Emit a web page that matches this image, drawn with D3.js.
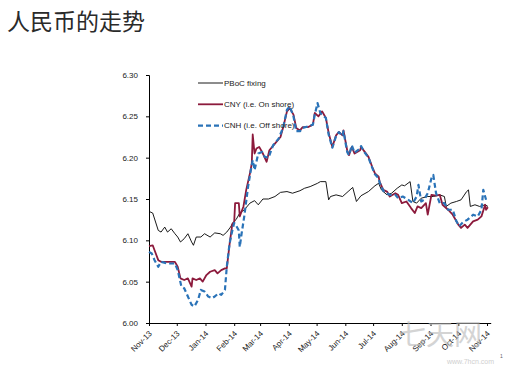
<!DOCTYPE html>
<html>
<head>
<meta charset="utf-8">
<script src="https://cdn.jsdelivr.net/npm/d3@7"></script>
<style>
  body { margin: 0; background: #fff; }
  svg { display: block; }
  .tick text { font-family: "Liberation Sans", Arial, sans-serif; font-size: 8px; fill: #222; }
</style>
</head>
<body>
<div class="svgcontainer"></div>
<script>
// chart values
const yTicks = [6.00, 6.05, 6.10, 6.15, 6.20, 6.25, 6.30];
const seriesNames = ["PBoC fixing", "CNY (i.e. On shore)", "CNH (i.e. Off shore)"];

const pbocFixing = [
  ["2013-11-01", 6.135], ["2013-11-05", 6.133], ["2013-11-11", 6.112], ["2013-11-14", 6.110],
  ["2013-11-18", 6.116], ["2013-11-21", 6.110], ["2013-11-25", 6.114], ["2013-11-29", 6.108],
  ["2013-12-02", 6.104], ["2013-12-05", 6.098], ["2013-12-09", 6.102], ["2013-12-13", 6.108],
  ["2013-12-17", 6.098], ["2013-12-19", 6.094], ["2013-12-22", 6.104], ["2013-12-27", 6.104],
  ["2013-12-31", 6.108], ["2014-01-06", 6.104], ["2014-01-11", 6.109], ["2014-01-17", 6.108],
  ["2014-01-20", 6.106], ["2014-01-24", 6.110], ["2014-01-28", 6.116], ["2014-01-31", 6.122],
  ["2014-02-03", 6.125], ["2014-02-07", 6.133], ["2014-02-12", 6.137], ["2014-02-18", 6.145],
  ["2014-02-23", 6.148], ["2014-02-27", 6.143], ["2014-03-04", 6.150], ["2014-03-10", 6.150],
  ["2014-03-17", 6.153], ["2014-03-23", 6.158], ["2014-03-30", 6.159], ["2014-04-05", 6.157],
  ["2014-04-13", 6.160], ["2014-04-18", 6.163], ["2014-04-24", 6.165], ["2014-05-02", 6.169],
  ["2014-05-05", 6.171], ["2014-05-11", 6.171], ["2014-05-14", 6.149], ["2014-05-16", 6.153],
  ["2014-05-22", 6.155], ["2014-05-29", 6.153], ["2014-06-04", 6.159], ["2014-06-09", 6.164],
  ["2014-06-13", 6.147], ["2014-06-18", 6.154], ["2014-06-26", 6.159], ["2014-07-03", 6.166],
  ["2014-07-07", 6.169], ["2014-07-10", 6.161], ["2014-07-16", 6.155], ["2014-07-21", 6.157],
  ["2014-07-27", 6.163], ["2014-08-01", 6.167], ["2014-08-04", 6.166], ["2014-08-10", 6.171],
  ["2014-08-13", 6.147], ["2014-08-17", 6.145], ["2014-08-22", 6.151], ["2014-08-29", 6.153],
  ["2014-09-04", 6.153], ["2014-09-11", 6.155], ["2014-09-16", 6.153], ["2014-09-18", 6.141],
  ["2014-09-23", 6.145], ["2014-09-29", 6.147], ["2014-10-04", 6.149], ["2014-10-10", 6.159],
  ["2014-10-12", 6.161], ["2014-10-14", 6.141], ["2014-10-19", 6.143], ["2014-10-24", 6.141],
  ["2014-10-30", 6.143], ["2014-11-02", 6.141]
];

const cnyOnshore = [
  ["2013-11-01", 6.093], ["2013-11-05", 6.094], ["2013-11-07", 6.088], ["2013-11-11", 6.076],
  ["2013-11-14", 6.074], ["2013-11-21", 6.074], ["2013-11-29", 6.074], ["2013-12-02", 6.068],
  ["2013-12-05", 6.054], ["2013-12-09", 6.052], ["2013-12-13", 6.054], ["2013-12-17", 6.044],
  ["2013-12-18", 6.054], ["2013-12-22", 6.052], ["2013-12-26", 6.054], ["2013-12-29", 6.050],
  ["2014-01-02", 6.058], ["2014-01-06", 6.062], ["2014-01-11", 6.064], ["2014-01-14", 6.060],
  ["2014-01-18", 6.064], ["2014-01-22", 6.066], ["2014-01-24", 6.066], ["2014-01-27", 6.095],
  ["2014-01-30", 6.120], ["2014-02-01", 6.122], ["2014-02-02", 6.145], ["2014-02-06", 6.145],
  ["2014-02-07", 6.129], ["2014-02-11", 6.141], ["2014-02-14", 6.161], ["2014-02-18", 6.181],
  ["2014-02-20", 6.193], ["2014-02-21", 6.228], ["2014-02-23", 6.205], ["2014-02-25", 6.211],
  ["2014-02-28", 6.213], ["2014-03-04", 6.205], ["2014-03-08", 6.195], ["2014-03-11", 6.209],
  ["2014-03-17", 6.217], ["2014-03-23", 6.225], ["2014-03-26", 6.237], ["2014-03-30", 6.256],
  ["2014-04-02", 6.260], ["2014-04-06", 6.252], ["2014-04-09", 6.236], ["2014-04-13", 6.233],
  ["2014-04-16", 6.237], ["2014-04-22", 6.237], ["2014-04-27", 6.240], ["2014-04-29", 6.254],
  ["2014-05-03", 6.250], ["2014-05-07", 6.256], ["2014-05-11", 6.248], ["2014-05-14", 6.230],
  ["2014-05-18", 6.213], ["2014-05-22", 6.227], ["2014-05-25", 6.231], ["2014-05-29", 6.227],
  ["2014-05-30", 6.233], ["2014-06-03", 6.209], ["2014-06-05", 6.203], ["2014-06-08", 6.213],
  ["2014-06-11", 6.205], ["2014-06-17", 6.209], ["2014-06-18", 6.213], ["2014-06-22", 6.207],
  ["2014-06-26", 6.201], ["2014-06-30", 6.189], ["2014-07-03", 6.181], ["2014-07-07", 6.177],
  ["2014-07-08", 6.171], ["2014-07-12", 6.161], ["2014-07-16", 6.159], ["2014-07-19", 6.153],
  ["2014-07-25", 6.157], ["2014-07-28", 6.155], ["2014-08-01", 6.145], ["2014-08-06", 6.147],
  ["2014-08-11", 6.139], ["2014-08-15", 6.133], ["2014-08-18", 6.141], ["2014-08-22", 6.139],
  ["2014-08-27", 6.145], ["2014-08-29", 6.131], ["2014-09-02", 6.155], ["2014-09-07", 6.154],
  ["2014-09-11", 6.155], ["2014-09-14", 6.143], ["2014-09-20", 6.137], ["2014-09-25", 6.131],
  ["2014-10-01", 6.119], ["2014-10-04", 6.115], ["2014-10-08", 6.119], ["2014-10-11", 6.115],
  ["2014-10-17", 6.123], ["2014-10-22", 6.125], ["2014-10-26", 6.129], ["2014-10-30", 6.143],
  ["2014-10-31", 6.137], ["2014-11-02", 6.140]
];

const cnhOffshore = [
  ["2013-11-01", 6.086], ["2013-11-04", 6.084], ["2013-11-07", 6.076], ["2013-11-11", 6.068],
  ["2013-11-14", 6.074], ["2013-11-21", 6.072], ["2013-11-29", 6.072], ["2013-12-02", 6.064],
  ["2013-12-06", 6.044], ["2013-12-09", 6.042], ["2013-12-13", 6.032], ["2013-12-17", 6.022],
  ["2013-12-20", 6.020], ["2013-12-24", 6.028], ["2013-12-27", 6.040], ["2013-12-31", 6.038],
  ["2014-01-04", 6.032], ["2014-01-08", 6.030], ["2014-01-11", 6.032], ["2014-01-15", 6.036],
  ["2014-01-18", 6.034], ["2014-01-22", 6.040], ["2014-01-24", 6.068], ["2014-01-27", 6.096],
  ["2014-01-30", 6.112], ["2014-02-01", 6.121], ["2014-02-03", 6.118], ["2014-02-06", 6.112],
  ["2014-02-07", 6.092], ["2014-02-09", 6.108], ["2014-02-12", 6.130], ["2014-02-16", 6.165],
  ["2014-02-19", 6.185], ["2014-02-21", 6.197], ["2014-02-23", 6.185], ["2014-02-27", 6.205],
  ["2014-03-03", 6.207], ["2014-03-06", 6.201], ["2014-03-10", 6.200], ["2014-03-15", 6.215],
  ["2014-03-21", 6.223], ["2014-03-26", 6.237], ["2014-03-30", 6.258], ["2014-04-02", 6.262],
  ["2014-04-06", 6.250], ["2014-04-09", 6.232], ["2014-04-13", 6.232], ["2014-04-16", 6.236],
  ["2014-04-22", 6.238], ["2014-04-27", 6.240], ["2014-04-29", 6.252], ["2014-05-02", 6.266],
  ["2014-05-05", 6.254], ["2014-05-11", 6.248], ["2014-05-14", 6.228], ["2014-05-18", 6.212],
  ["2014-05-22", 6.226], ["2014-05-25", 6.231], ["2014-05-29", 6.226], ["2014-05-30", 6.232],
  ["2014-06-03", 6.207], ["2014-06-05", 6.203], ["2014-06-08", 6.215], ["2014-06-11", 6.206],
  ["2014-06-17", 6.211], ["2014-06-18", 6.214], ["2014-06-22", 6.206], ["2014-06-26", 6.200],
  ["2014-06-30", 6.188], ["2014-07-03", 6.180], ["2014-07-07", 6.175], ["2014-07-08", 6.170],
  ["2014-07-12", 6.160], ["2014-07-16", 6.157], ["2014-07-19", 6.155], ["2014-07-25", 6.155],
  ["2014-07-28", 6.151], ["2014-08-02", 6.153], ["2014-08-08", 6.149], ["2014-08-13", 6.145],
  ["2014-08-17", 6.153], ["2014-08-19", 6.167], ["2014-08-22", 6.147], ["2014-08-25", 6.149],
  ["2014-08-29", 6.157], ["2014-09-02", 6.175], ["2014-09-04", 6.179], ["2014-09-07", 6.157],
  ["2014-09-11", 6.145], ["2014-09-16", 6.145], ["2014-09-20", 6.137], ["2014-09-25", 6.137],
  ["2014-09-29", 6.123], ["2014-10-02", 6.117], ["2014-10-06", 6.122], ["2014-10-11", 6.125],
  ["2014-10-17", 6.131], ["2014-10-22", 6.129], ["2014-10-26", 6.137], ["2014-10-28", 6.161],
  ["2014-10-31", 6.149]
];

const W = 505, H = 365;
const parse = d3.timeParse("%Y-%m-%d");

const svg = d3.select('.svgcontainer')
  .append('svg')
  .attr('width', W)
  .attr('height', H);

// title
svg.append('text')
  .attr('x', 7)
  .attr('y', 30)
  .attr('font-family', '"Noto Sans CJK SC", sans-serif')
  .attr('font-size', 23)
  .attr('fill', '#2a2a2a')
  .text('人民币的走势');

const x = d3.scaleTime()
  .domain([parse("2013-11-01"), parse("2014-11-05")])
  .range([149, 490.7]);

const y = d3.scaleLinear()
  .domain([6.00, 6.30])
  .range([323, 75]);

// y axis
const yAxis = svg.append('g')
  .attr('transform', 'translate(149,0)')
  .call(d3.axisLeft(y).tickValues(yTicks).tickFormat(d3.format('.2f')).tickSize(3).tickPadding(8));
yAxis.select('.domain').attr('stroke', '#000');
yAxis.selectAll('.tick line').attr('stroke', '#000');

// x axis
const xAxis = svg.append('g')
  .attr('transform', 'translate(0,323)')
  .call(d3.axisBottom(x).ticks(d3.timeMonth.every(1)).tickFormat(d3.timeFormat('%b-%y')).tickSize(3).tickSizeOuter(0));
xAxis.select('.domain').attr('stroke', '#000');
xAxis.selectAll('.tick line').attr('stroke', '#000');
xAxis.selectAll('.tick text')
  .attr('x', 0).attr('y', 0).attr('dy', '0.35em')
  .attr('text-anchor', 'end')
  .attr('transform', 'translate(1,9) rotate(-45)');

const line = d3.line()
  .x(d => x(parse(d[0])))
  .y(d => y(d[1]));

const styles = [
  { data: pbocFixing, color: '#000000', width: 0.9, dash: null },
  { data: cnyOnshore, color: '#8c1a3c', width: 1.8, dash: null },
  { data: cnhOffshore, color: '#2a73b8', width: 2.2, dash: '5,3' }
];

styles.forEach(s => {
  svg.append('path')
    .datum(s.data)
    .attr('fill', 'none')
    .attr('stroke', s.color)
    .attr('stroke-width', s.width)
    .attr('stroke-dasharray', s.dash)
    .attr('stroke-linejoin', 'round')
    .attr('d', line);
});

// legend
const legend = svg.append('g')
  .selectAll('g')
  .data(styles.map((s, i) => ({ ...s, name: seriesNames[i] })))
  .enter()
  .append('g')
  .attr('transform', (d, i) => `translate(198, ${83 + i * 21.3})`);

legend.append('line')
  .attr('x1', 0).attr('x2', 25)
  .attr('stroke', d => d.color)
  .attr('stroke-width', d => d.width)
  .attr('stroke-dasharray', d => d.dash);

legend.append('text')
  .attr('x', 26)
  .attr('dy', '0.35em')
  .attr('font-family', '"Liberation Sans", Arial, sans-serif')
  .attr('font-size', 8)
  .attr('fill', '#222')
  .text(d => d.name);

// faint watermark and page number
svg.append('text')
  .attr('x', 398).attr('y', 345)
  .attr('font-family', '"Noto Sans CJK SC", sans-serif')
  .attr('font-size', 28)
  .attr('fill', '#b8b8b8')
  .attr('opacity', 0.6)
  .text('七天网');
svg.append('text')
  .attr('x', 447).attr('y', 364)
  .attr('font-family', '"Liberation Sans", Arial, sans-serif')
  .attr('font-size', 7)
  .attr('fill', '#bbb')
  .attr('opacity', 0.7)
  .text('www.7hcn.com');
svg.append('text')
  .attr('x', 500).attr('y', 358)
  .attr('font-family', '"Liberation Sans", Arial, sans-serif')
  .attr('font-size', 5)
  .attr('fill', '#666')
  .text('1');
</script>
</body>
</html>
